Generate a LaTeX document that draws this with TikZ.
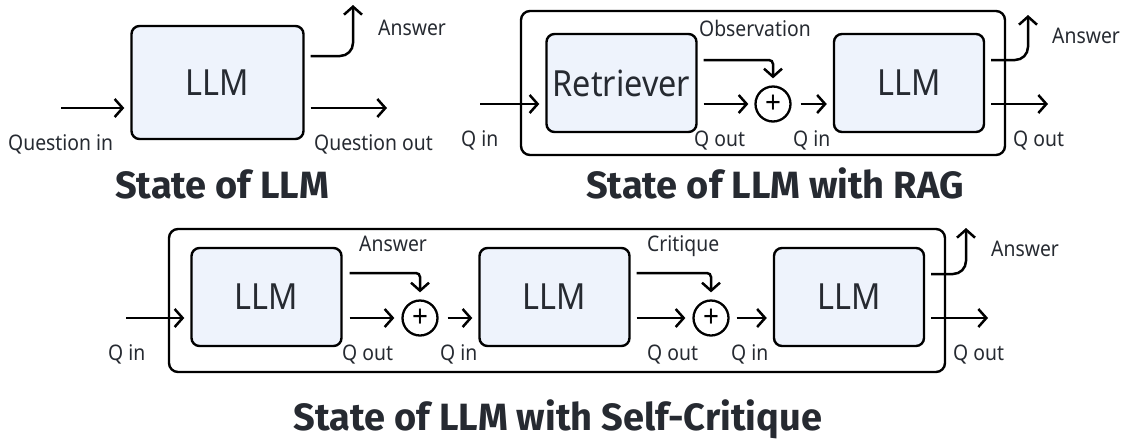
\documentclass[tikz,border=0pt]{standalone}
\usepackage{fontspec}
\setmainfont{Noto Sans}[FakeStretch=0.9]
\newfontfamily\ttlfont{Fira Sans}
\usetikzlibrary{arrows.meta}
\definecolor{blkfill}{HTML}{EEF3FC}
\definecolor{txt}{HTML}{262A31}

\begin{document}
\begin{tikzpicture}[x=1pt, y=-1pt,
    blk/.style={draw, line width=2.4pt, rounded corners=8pt, fill=blkfill, text=txt, font=\fontsize{36}{36}\selectfont, minimum width=150pt, minimum height=98pt, inner sep=0pt},
    frame/.style={draw, line width=2.4pt, rounded corners=9pt, inner sep=0pt},
    plus/.style={circle, draw, line width=2.3pt, minimum size=35pt, inner sep=0pt, font=\fontsize{31}{31}\selectfont},
    lbl/.style={anchor=base west, text=txt, font=\fontsize{21.5}{21.5}\selectfont, inner sep=0pt},
    ttl/.style={anchor=base, text=txt, font=\ttlfont\bfseries\fontsize{38}{38}\selectfont, inner sep=0pt},
    flow/.style={line width=2.5pt, -{Straight Barb[length=8pt, width=18pt]}}]
    \useasboundingbox (0,0) rectangle (1125,440);

    % State of LLM (Upper Left)
    \node[blk, minimum width=172pt, minimum height=113pt] (llmA) at (217.5,82.5) {LLM};
    \coordinate (inA) at (61,108);
    \coordinate (outA) at (387,108);
    \coordinate (ansA) at (353,5);
    \draw[flow] (inA) -- ([xshift=-6pt]llmA.west |- inA);
    \draw[flow] ([xshift=6pt]llmA.east |- outA) -- (outA);
    \draw[flow, rounded corners=13pt] ([xshift=6pt]llmA.east |- 0,56) -| (ansA);
    \node[lbl] (ansAl) at (378,35) {Answer};
    \node[lbl] (qinA) at (8,150) {Question in};
    \node[lbl] (qoutA) at (314,150) {Question out};
    \node[ttl] (ttlA) at (222,198) {State of LLM};

    % State of LLM with RAG (Upper Right)
    \node[frame, minimum width=484pt, minimum height=144pt] (rag) at (763,83) {};
    \node[blk] (ret) at (621.5,83) {Retriever};
    \node[blk] (llmB) at (909,83) {LLM};
    \node[plus] (plusB) at (773,104) {+};
    \coordinate (inB) at (480,104);
    \coordinate (outB) at (1048,104);
    \coordinate (ansB) at (1028,15);
    \draw[flow] (inB) -- ([xshift=-6pt]ret.west |- inB);
    \draw[flow, shorten >=6pt] ([xshift=6pt]ret.east |- plusB) -- (plusB);
    \draw[flow, rounded corners=4pt, shorten >=7pt] ([xshift=6pt]ret.east |- 0,60) -| (plusB);
    \draw[flow, shorten <=9pt] (plusB) -- ([xshift=-6pt]llmB.west |- plusB);
    \draw[flow] ([xshift=6pt]llmB.east |- outB) -- (outB);
    \draw[flow, rounded corners=13pt] ([xshift=6pt]llmB.east |- 0,60) -| (ansB);
    \node[lbl] (qinB) at (461,146) {Q in};
    \node[lbl] (obsB) at (699,36) {Observation};
    \node[lbl] (qoutB) at (694,146) {Q out};
    \node[lbl] (qinB2) at (793,146) {Q in};
    \node[lbl] (qoutB2) at (1013,146) {Q out};
    \node[lbl] (ansBl) at (1052,43) {Answer};
    \node[ttl] (ttlB) at (775,198) {State of LLM with RAG};

    % State of LLM with Self-Critique (Bottom)
    \node[frame, minimum width=776pt, minimum height=143pt] (crit) at (557,300.5) {};
    \node[blk] (llmC1) at (266.5,297) {LLM};
    \node[blk] (llmC2) at (554.5,297) {LLM};
    \node[blk] (llmC3) at (849,297) {LLM};
    \node[plus] (plusC1) at (420,318) {+};
    \node[plus] (plusC2) at (711,318) {+};
    \coordinate (inC) at (126,318);
    \coordinate (outC) at (988,318);
    \coordinate (ansC) at (966,228);
    \draw[flow] (inC) -- ([xshift=-6pt]llmC1.west |- inC);
    \draw[flow, shorten >=7pt] ([xshift=7pt]llmC1.east |- plusC1) -- (plusC1);
    \draw[flow, rounded corners=4pt, shorten >=7pt] ([xshift=7pt]llmC1.east |- 0,273) -| (plusC1);
    \draw[flow, shorten <=9pt] (plusC1) -- ([xshift=-6pt]llmC2.west |- plusC1);
    \draw[flow, shorten >=7pt] ([xshift=6pt]llmC2.east |- plusC2) -- (plusC2);
    \draw[flow, rounded corners=4pt, shorten >=7pt] ([xshift=6pt]llmC2.east |- 0,273) -| (plusC2);
    \draw[flow, shorten <=7pt] (plusC2) -- ([xshift=-6pt]llmC3.west |- plusC2);
    \draw[flow] ([xshift=6pt]llmC3.east |- outC) -- (outC);
    \draw[flow, rounded corners=13pt] ([xshift=6pt]llmC3.east |- 0,274) -| (ansC);
    \node[lbl] (qinC) at (108,360) {Q in};
    \node[lbl] (qoutC1) at (342,360) {Q out};
    \node[lbl] (qinC2) at (440,360) {Q in};
    \node[lbl] (qoutC2) at (647,360) {Q out};
    \node[lbl] (qinC3) at (731,360) {Q in};
    \node[lbl] (qoutC3) at (953,360) {Q out};
    \node[lbl] (ansCl1) at (359,251) {Answer};
    \node[lbl] (critCl) at (647,251) {Critique};
    \node[lbl] (ansCl2) at (991,256) {Answer};
    \node[ttl] (ttlC) at (558,430) {State of LLM with Self-Critique};
\end{tikzpicture}
\end{document}
